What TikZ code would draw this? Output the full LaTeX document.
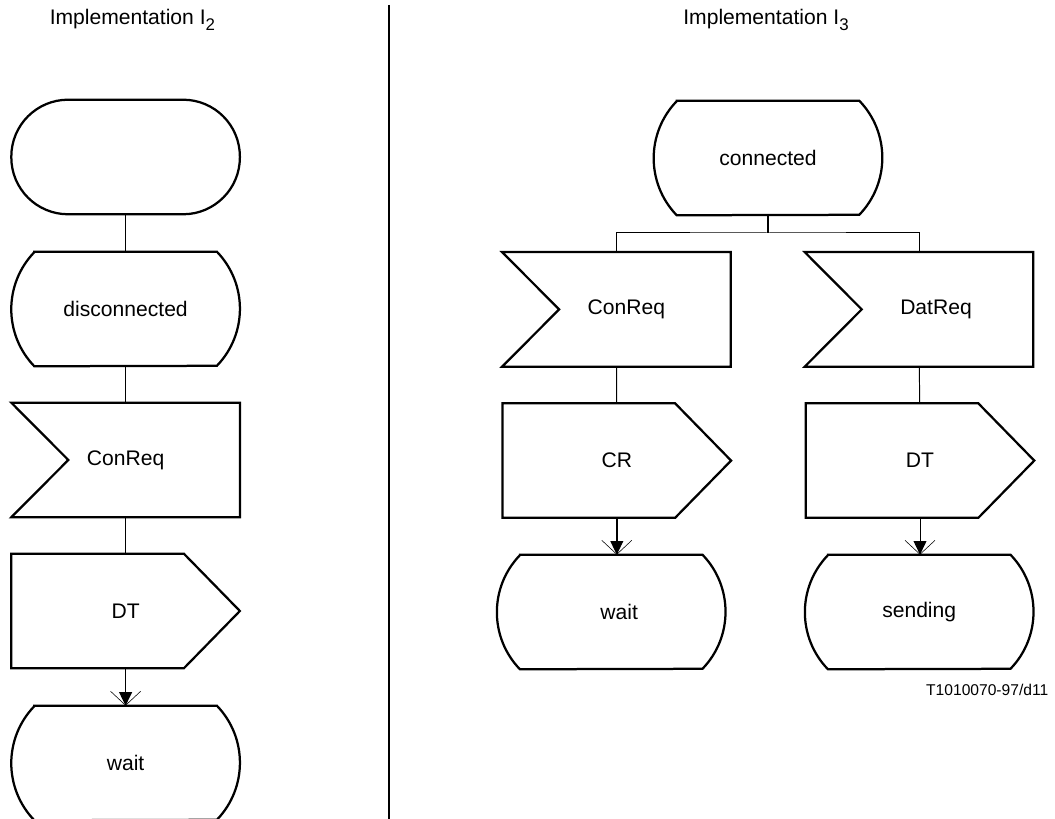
\documentclass[tikz,border=0pt]{standalone}
\usepackage{fontspec}
\setmainfont{Liberation Sans}
\usetikzlibrary{calc,arrows.meta}

\tikzset{
  sym/.style={rectangle,minimum width=5.7cm,minimum height=2.85cm,inner sep=0pt,
    font=\fontsize{15}{18}\selectfont},
  outline/.style={line width=1.6pt},
  link/.style={line width=1.2pt},
  thinlink/.style={line width=0.7pt},
  sdlarrow/.style={-{Triangle[length=0.34cm,width=0.32cm]},
    postaction={draw,line width=0.4pt,-{Straight Barb[length=0.35cm,width=0.75cm]}}}
}

\newcommand\lowidx[1]{\raisebox{-0.5ex}{\fontsize{12}{14}\selectfont #1}}

% SDL symbols drawn round a named node
\newcommand\startsym[1]{\draw[outline,rounded corners=1.42cm] (#1.south west) rectangle (#1.north east);}
\newcommand\statesym[1]{\draw[outline] ($(#1.north west)+(0.575,0)$) -- ($(#1.north east)+(-0.575,0)$)
  arc[start angle=44,end angle=-44,radius=2.053] -- ($(#1.south west)+(0.575,0)$)
  arc[start angle=224,end angle=136,radius=2.053] -- cycle;}
\newcommand\inputsym[1]{\draw[outline] (#1.north west) -- (#1.north east) -- (#1.south east)
  -- (#1.south west) -- ($(#1.west)+(1.425,0)$) -- cycle;}
\newcommand\outputsym[1]{\draw[outline] (#1.north west) -- ($(#1.north east)+(-1.4,0)$) -- (#1.east)
  -- ($(#1.south east)+(-1.4,0)$) -- (#1.south west) -- cycle;}

\begin{document}
\begin{tikzpicture}
\useasboundingbox (0,0) rectangle (26.375,20.475);

\node[font=\fontsize{15}{18}\selectfont] (titleA) at (3.31,19.975) {Implementation I\lowidx{2}};
\node[font=\fontsize{15}{18}\selectfont] (titleB) at (19.15,19.975) {Implementation I\lowidx{3}};

\draw[link] (9.725,20.35) -- (9.725,0);

% implementation I2
\node[sym] (start) at (3.14,16.55) {};
\node[sym] (disc) at (3.14,12.75) {disconnected};
\node[sym] (conreqA) at (3.14,8.975) {ConReq};
\node[sym] (dtA) at (3.14,5.2) {DT};
\node[sym] (waitA) at (3.14,1.4) {wait};

\startsym{start}
\statesym{disc}
\inputsym{conreqA}
\outputsym{dtA}
\statesym{waitA}

\draw[link] (start) -- (disc);
\draw[link] (disc) -- (conreqA);
\draw[link] (conreqA) -- (dtA);
\draw[link,sdlarrow] (dtA) -- (waitA);

% implementation I3
\node[sym] (conn) at (19.2,16.525) {connected};
\coordinate (fork) at (19.2,14.65);
\node[sym] (conreqB) at (15.41,12.74) {\hspace*{0.5cm}ConReq};
\node[sym] (datreq) at (22.975,12.74) {\hspace*{0.85cm}DatReq};
\node[sym] (cr) at (15.42,8.96) {CR};
\node[sym] (dtB) at (23.0,8.96) {DT};
\node[sym] (waitB) at (15.28,5.175) {\hspace*{0.4cm}wait};
\node[sym] (sending) at (22.98,5.175) {sending};

\statesym{conn}
\inputsym{conreqB}
\inputsym{datreq}
\outputsym{cr}
\outputsym{dtB}
\statesym{waitB}
\statesym{sending}

\draw[link] (conn) -- (fork);
\draw[thinlink] (conreqB) |- (fork) -| (datreq);
\draw[thinlink] (conreqB) -- (cr);
\draw[thinlink] (datreq) -- (dtB);
\draw[thinlink,sdlarrow] (cr.south) -- (cr.south |- waitB.north);
\draw[thinlink,sdlarrow] (dtB.south) -- (dtB.south |- sending.north);

\node[anchor=east,font=\fontsize{11.1}{13}\selectfont] (figid) at (26.33,3.225) {T1010070-97/d11};

\end{tikzpicture}
\end{document}
